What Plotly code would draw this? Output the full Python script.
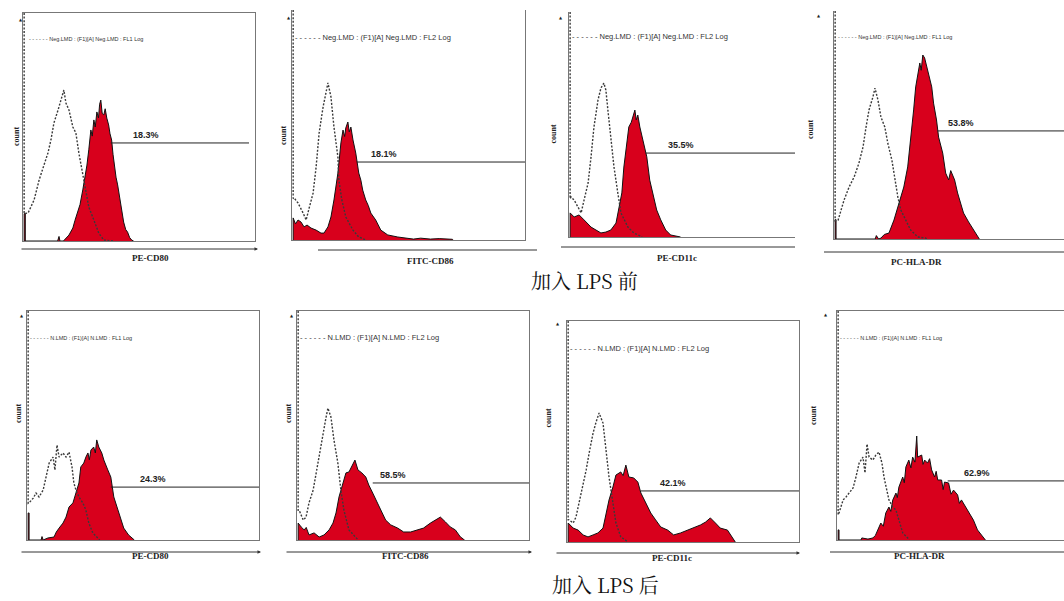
import plotly.graph_objects as go

W, H = 1064, 601

# ---------------- data (channel position 0-100, relative count 0-100) ----------------
stained_1 = [(0,0),(0,12),(0.5,12),(0.5,0),(14.5,0),(15.1,2),(15.5,0),(17,0),(19.4,2.6),(20.2,4),(21.1,5.7),(22,9),(23.3,12.7),(24.2,16),(25.4,22.4),(26.2,27),(27.2,33.3),(28,40),(28.9,48.7),(29.5,46),(30.2,53.1),(30.8,50),(31.5,56.6),(32.2,54),(32.7,60),(33.2,61.8),(33.8,56),(34.5,55.3),(35.1,58),(35.8,53.9),(36.6,50.9),(37.2,47),(37.9,44.3),(38.5,38),(39.2,32),(39.8,28),(40.5,24.6),(41.2,20),(41.8,16.7),(42.5,12),(43.1,8.3),(44,5),(44.8,3.9),(45.7,1.5),(46.6,0.4),(47.4,0)]
isotype_1 = [(0,100),(0,12),(1.7,12.3),(3.0,14.9),(4.3,18.0),(6.5,26.8),(8.2,32.0),(10.3,38.6),(11.6,44.3),(12.9,51.8),(14.7,57.5),(15.9,61.8),(17.2,66.2),(18.1,60.5),(19.4,57.5),(21.1,50),(22.4,47.4),(23.7,38.6),(25.4,29.8),(26.7,22.4),(28,14.9),(30.2,9.2),(32.3,3.5),(34.5,0.4),(38.8,0)]

stained_2 = [(0,0),(0,9.6),(1,7),(2.1,8.7),(3.4,7.8),(4.7,5.7),(6,6.5),(7.7,5.2),(9.9,4.3),(12,3.0),(13.3,3.0),(15,5.7),(16.3,10),(17.6,17.4),(19.3,29.1),(20.6,42.2),(21.5,47.8),(22.2,45),(22.7,48.7),(23.6,51.3),(24.2,47),(24.9,49.1),(25.8,43.5),(27,37.8),(28.3,29.1),(29.2,26),(30,21.7),(31.3,17.4),(32.4,15),(33.5,11.7),(35.6,8.7),(37.8,4.3),(40.8,2.2),(45.1,1.3),(51.9,0.4),(55,0.8),(59.2,0.4),(63,0.6),(68.7,0.3),(69,0)]
isotype_2 = [(0,100),(0,18),(0.4,18.3),(2.1,16.1),(4.3,11.7),(5.6,8.7),(6.9,13.9),(8.6,20.4),(9.9,31.7),(11.2,46.5),(12.9,57.8),(14.2,65.2),(15,68.3),(16.3,62.2),(17.6,49.1),(19.3,36.1),(19.7,26.1),(21,17.4),(22.7,10),(25.8,4.3),(28.3,1.3),(30.5,0.4),(31,0)]

stained_3 = [(0,0),(0,10.7),(1.8,8.9),(4,9.8),(6.2,7.6),(9.3,4.4),(11.5,3.1),(13.7,1.8),(15.9,2.2),(18.1,3.1),(20.4,6.2),(21.7,13.3),(23,19.6),(23.9,31.1),(25.2,43.1),(26.1,48.9),(27.2,51),(27.9,53.3),(28.8,56.4),(29.4,52),(30.1,54.2),(31,48.9),(32.7,41.8),(34.1,35.6),(35.4,25.3),(37.2,17.8),(38.5,12),(40.3,7.6),(42.5,3.1),(44.7,0.9),(47,0.5),(49.1,0)]
isotype_3 = [(0,100),(0,17),(0.4,17.8),(1.8,16.4),(3.5,13.3),(4.9,10.7),(6.2,16.4),(8,24),(9.3,35.6),(10.6,48.9),(12.4,60.9),(13.7,66.2),(15,68.4),(15.9,65.3),(16.8,56.4),(18.1,44.4),(19.5,31.1),(21.2,19.6),(22.6,10.7),(25.7,4.4),(28.3,1.8),(31.4,0.4),(32,0)]

stained_4 = [(0,0),(0,8.5),(0.4,8.5),(0.4,0),(17.5,0),(18,1.5),(19,0),(20,0.4),(21.5,2),(23.5,2.6),(25.7,8.3),(27.4,14),(28.7,18.4),(30,22.8),(31.7,31.6),(33,43.4),(34.3,56.6),(35.2,66.7),(36.1,72.8),(37,77.2),(37.6,74),(38.3,80.7),(39.1,79.4),(40,75.4),(40.9,71.1),(42.2,66.7),(43,59.6),(44.3,52.2),(45.2,44.7),(47,37.7),(48.3,28.9),(49.6,25.9),(50.5,30),(51.3,28.1),(52.2,25.9),(53.5,20.2),(54.8,15.8),(56.1,11.4),(58.3,7.5),(60.4,3.9),(62.6,0.4),(63,0)]
isotype_4 = [(0,100),(0,8),(1.3,8.3),(2.6,12.7),(3.9,17.1),(6.1,22.8),(8.3,27.2),(10.4,33.3),(12.2,40.4),(13.5,49.1),(14.8,56.6),(16.5,62.3),(17.4,66.2),(18.7,61),(20,53.5),(21.7,49.1),(23,42.1),(24.8,34.6),(26.1,25.9),(27.4,18.4),(28.7,12.7),(30.9,8.3),(33,3.9),(36.1,0.9),(39.6,0.4),(40,0)]

stained_5 = [(0,0),(0,11.8),(0.4,11.8),(0.4,0),(5.6,0),(6,1.5),(6.5,0),(8.6,0.9),(11.2,1.3),(12.2,3.5),(13.4,5.2),(15.1,7.4),(16.4,10),(17.7,14.4),(19.4,16.2),(20.7,20.5),(22,24.9),(22.8,31.9),(24.1,33.6),(25,36.2),(25.9,38),(26.5,35),(27.2,39.3),(28.4,40.6),(29.1,38),(29.7,43.7),(30.6,40.6),(31.9,38),(32.8,34.9),(34.5,30.6),(35.8,27.5),(37.1,18.8),(38.8,13.1),(40.1,8.7),(41.4,5.2),(43.5,2.2),(45.7,0.4),(46,0)]
isotype_5 = [(0,100),(0,16),(0.4,16.2),(2.2,18.3),(3.4,20.5),(4.7,18.8),(6.5,21.8),(7.8,27.5),(9.1,33.6),(10.8,36.2),(11.6,30.6),(12.5,41.5),(13.4,36.2),(15.1,38),(16.4,36.2),(17.7,38.4),(19,31.9),(19.8,24.9),(20.7,21.8),(22,18.8),(23.7,16.2),(25,13.1),(26.3,7.4),(28,3.1),(30.2,0.9),(31,0)]

stained_6 = [(0,0),(0,7.4),(1.3,5.7),(2.6,4.4),(3.5,5.5),(4.7,2.2),(6.9,3.1),(9.1,1.3),(11.2,2.2),(13.4,4.4),(15.1,7.4),(16.4,11.8),(17.7,18.8),(19.4,24.9),(20.7,29.3),(22,29.7),(23.7,33.6),(24.6,34.9),(25.9,30.6),(27.6,29.3),(29.3,27.5),(30.6,24),(32.3,20.5),(33.6,17.5),(35.8,13.1),(37.9,8.7),(40.1,6.6),(43.1,5.2),(45.7,3.5),(48.7,3.5),(51.7,4.4),(54.3,5.2),(57.3,7.4),(59.5,8.7),(61.6,10),(63.8,7.9),(65.9,5.7),(68.1,4.4),(70.3,1.3),(71.6,0.4),(72,0)]
isotype_6 = [(0,100),(0,13),(0.4,13.1),(2.2,8.7),(3.4,10),(4.7,16.2),(6.5,21.8),(7.8,29.3),(9.1,38),(10.8,46.7),(12.1,53.7),(12.9,57.6),(14.2,53.7),(15.5,43.7),(17.2,33.6),(18.5,21.8),(19.8,13.1),(22,4.4),(25,0.9),(26,0)]

stained_7 = [(0,0),(0,8.6),(2.2,6.3),(4.3,5.4),(6.5,3.2),(8.6,2.3),(10.8,3.2),(12.9,4.1),(15.1,6.3),(16.4,13.1),(17.7,19),(19.4,24.9),(20.7,30.3),(22.8,31.7),(23.8,30),(25,34.8),(26.3,29.4),(28.4,29),(30.2,27.1),(31.5,22.2),(33.6,17.6),(35.8,13.1),(37.9,10),(40.1,6.8),(43.1,5.4),(45.7,3.2),(48.7,4.1),(51.7,5.4),(54.3,6.3),(57.3,7.7),(59.5,9),(61.6,10.9),(63.8,8.6),(65.9,6.3),(69,5.4),(71.1,1.8),(72.4,0)]
isotype_7 = [(0,100),(0,10),(0.4,10),(2.2,8.6),(3.4,11.3),(4.7,17.6),(6.5,24.9),(7.8,32.6),(9.1,40.3),(10.8,49.3),(12.1,54.3),(13.4,58.4),(15.1,53.8),(16.4,41.6),(17.7,29.4),(19.4,17.6),(20.7,8.6),(22.8,2.3),(25,0.5),(26,0)]

stained_8 = [(0,0),(0,4.4),(0.4,4.4),(0.4,0),(10.1,0),(10.5,0.9),(13.2,0.4),(15.4,0.9),(16.5,2),(17.6,4.4),(18.9,7.4),(20,6),(21.1,11.8),(22.5,14.4),(23.3,12.5),(24.2,17.5),(25.6,20.5),(26.2,18.5),(26.9,23.1),(28.6,27.5),(29.3,25),(30,31.9),(31.3,34.9),(32.2,31.5),(33,36.2),(34,34),(34.8,45.4),(35.2,36.2),(37,37.1),(37.6,33),(38.3,34.9),(39.6,33.6),(40.5,35.5),(41.4,30.6),(42.7,27.5),(43.4,30),(44.1,26.2),(45.8,26.2),(46.5,22),(47.1,25.3),(48.9,24.9),(50,20),(51.1,21.8),(52.9,19.7),(53.7,16),(54.6,17.5),(56.4,14.4),(57.7,12.2),(59.9,8.7),(61.7,4.4),(63.9,1.3),(65.2,0)]
isotype_8 = [(0,100),(0,11),(0.4,11.8),(2.2,17.5),(3.5,18.8),(4.8,20.5),(6.6,22.7),(7.9,27.5),(9.3,33.6),(11,36.2),(11.9,29.3),(12.8,41.9),(13.7,36.2),(15.4,34.9),(16.7,37.1),(18.1,38.4),(19.4,33.6),(20.3,27.5),(21.6,21.8),(22.5,17.5),(24.2,14.4),(25.6,13.1),(26.9,8.7),(28.6,3.1),(30.8,0.9),(31.5,0)]

gate_pct = ["18.3%", "18.1%", "35.5%", "53.8%", "24.3%", "58.5%", "42.1%", "62.9%"]
gate_level = [43.0, 33.9, 37.3, 47.4, 23.1, 24.9, 23.1, 25.8]
gate_start = [37.5, 27.5, 33.6, 44.8, 35.8, 32.3, 31.5, 48.5]
gate_end = [97.4, 100, 100, 100, 100, 100, 100, 100]
gate_label_x = [52.6, 39.1, 49.1, 54.8, 53.9, 40.9, 45.3, 61.7]
markers = ["PE-CD80", "FITC-CD86", "PE-CD11c", "PC-HLA-DR", "PE-CD80", "FITC-CD86", "PE-CD11c", "PC-HLA-DR"]
legend_texts = [
    "Neg.LMD : (F1)[A] Neg.LMD : FL1 Log",
    "Neg.LMD : (F1)[A] Neg.LMD : FL2 Log",
    "Neg.LMD : (F1)[A] Neg.LMD : FL2 Log",
    "Neg.LMD : (F1)[A] Neg.LMD : FL1 Log",
    "N.LMD : (F1)[A] N.LMD : FL1 Log",
    "N.LMD : (F1)[A] N.LMD : FL2 Log",
    "N.LMD : (F1)[A] N.LMD : FL2 Log",
    "N.LMD : (F1)[A] N.LMD : FL1 Log",
]
captions = ["加入 LPS 前", "加入 LPS 后"]

stained = [stained_1, stained_2, stained_3, stained_4, stained_5, stained_6, stained_7, stained_8]
isotype = [isotype_1, isotype_2, isotype_3, isotype_4, isotype_5, isotype_6, isotype_7, isotype_8]

# ---------------- layout config (pixels) ----------------
panels = [
    dict(dom=(23, 255, 13, 241), mx=True, my=True, under=(20, 258, 249, True), tip=(17, 15),
         count=(10, 125), xlab=(130, 258), leg=(27, 39, 5.5)),
    dict(dom=(292, 525, 10, 240), mx=False, my=True, under=(318, 537, 250, False), tip=(285, 13),
         count=(277, 124), xlab=(430, 261), leg=(293, 38, 7.5)),
    dict(dom=(569, 795, 12, 237), mx=False, my=False, under=(561, 795, 247, False), tip=(561, 13),
         count=(553, 123), xlab=(677, 258), leg=(570, 37, 7.5)),
    dict(dom=(834, 1064, 11, 239), mx=False, my=False, under=(824, 1064, 252, False), tip=(823, 11),
         count=(817, 118), xlab=(944, 262), leg=(836, 37, 5.5)),
    dict(dom=(27, 259, 311, 540), mx=True, my=True, under=(20, 261, 552, True), tip=(18, 315),
         count=(12, 425), xlab=(130, 563), leg=(28, 338, 5.5)),
    dict(dom=(297, 529, 311, 540), mx=True, my=True, under=(285, 532, 552, True), tip=(288, 315),
         count=(282, 425), xlab=(405, 563), leg=(298, 338, 7.5)),
    dict(dom=(567, 799, 321, 542), mx=True, my=True, under=(555, 800, 553, True), tip=(558, 323),
         count=(548, 430), xlab=(672, 565), leg=(568, 348, 7.5)),
    dict(dom=(837, 1064, 311, 540), mx=True, my=False, under=(830, 1064, 552, False), tip=(830, 314),
         count=(820, 427), xlab=(947, 563), leg=(838, 338, 5.5)),
]

RED = "rgb(216,0,28)"
SERIF = "Liberation Serif, Times New Roman, serif"
SANS = "Liberation Sans, Arial, sans-serif"
CJK = "Noto Serif CJK SC, Liberation Serif, Noto Sans CJK SC"

fig = go.Figure()
layout = dict(width=W, height=H, margin=dict(l=0, r=0, t=0, b=0), autosize=False,
              paper_bgcolor="white", plot_bgcolor="white", showlegend=False)
annotations, shapes = [], []

def px(x):
    return x / W

def py(y):
    return 1 - y / H

for i, p in enumerate(panels):
    n = i + 1
    xk = "xaxis" if n == 1 else f"xaxis{n}"
    yk = "yaxis" if n == 1 else f"yaxis{n}"
    xr = "x" if n == 1 else f"x{n}"
    yr = "y" if n == 1 else f"y{n}"
    L, R, T, B = p["dom"]
    layout[xk] = dict(domain=[px(L), px(R)], range=[-0.5, 100], anchor=yr, showline=True,
                      mirror=p["mx"], linecolor="#777", linewidth=1, showgrid=False,
                      zeroline=False, showticklabels=False, ticks="", fixedrange=True)
    layout[yk] = dict(domain=[py(B), py(T)], range=[0, 100], anchor=xr, showline=True,
                      mirror=p["my"], linecolor="#777", linewidth=1, showgrid=False,
                      zeroline=False, showticklabels=False, ticks="", fixedrange=True)

    sx, sy = zip(*stained[i])
    fig.add_trace(go.Scatter(x=sx, y=sy, xaxis=xr, yaxis=yr, mode="lines", fill="tozeroy",
                             fillcolor=RED, line=dict(color="#111", width=1), hoverinfo="skip"))
    ix, iy = zip(*isotype[i])
    fig.add_trace(go.Scatter(x=ix, y=iy, xaxis=xr, yaxis=yr, mode="lines",
                             line=dict(color="#3a3a3a", width=1.4, dash="2px,1.6px"), hoverinfo="skip"))
    fig.add_trace(go.Scatter(x=[gate_start[i], gate_end[i]], y=[gate_level[i], gate_level[i]],
                             xaxis=xr, yaxis=yr, mode="lines", line=dict(color="#222", width=1),
                             hoverinfo="skip"))
    annotations.append(dict(x=gate_label_x[i], y=gate_level[i], xref=xr, yref=yr, text=f"<b>{gate_pct[i]}</b>",
                            showarrow=False, xanchor="center", yanchor="bottom", yshift=1,
                            font=dict(family=SANS, size=9, color="#222")))

    # lower axis line (with arrow for some panels)
    ux0, ux1, uy, arrow = p["under"]
    if arrow:
        annotations.append(dict(x=px(ux1), y=py(uy), xref="paper", yref="paper", ax=-(ux1 - ux0), ay=0,
                                axref="pixel", ayref="pixel", text="", showarrow=True, arrowhead=2,
                                arrowsize=0.7, arrowwidth=1, arrowcolor="#333"))
    else:
        shapes.append(dict(type="line", xref="paper", yref="paper", x0=px(ux0), x1=px(ux1),
                           y0=py(uy), y1=py(uy), line=dict(color="#333", width=1)))
    # small arrow tip at top of vertical axis
    tx, ty = p["tip"]
    annotations.append(dict(x=px(tx), y=py(ty), xref="paper", yref="paper", text="▲", showarrow=False,
                            font=dict(family="DejaVu Sans", size=4, color="#222")))
    # y label
    cx, cy = p["count"]
    annotations.append(dict(x=px(cx), y=py(cy), xref="paper", yref="paper", text="<b>count</b>",
                            textangle=-90, showarrow=False,
                            font=dict(family=SERIF, size=8, color="#222")))
    # x label
    lx, ly = p["xlab"]
    annotations.append(dict(x=px(lx), y=py(ly), xref="paper", yref="paper", text=f"<b>{markers[i]}</b>",
                            showarrow=False, font=dict(family=SERIF, size=9, color="#222")))
    # legend text
    gx, gy, gs = p["leg"]
    annotations.append(dict(x=px(gx), y=py(gy), xref="paper", yref="paper",
                            text="- - - - - - " + legend_texts[i], showarrow=False,
                            xanchor="left", yanchor="middle",
                            font=dict(family=SANS, size=gs, color="#333")))

# captions
annotations.append(dict(x=px(584), y=py(280), xref="paper", yref="paper", text=captions[0],
                        showarrow=False, yanchor="middle", font=dict(family=CJK, size=20, color="#111")))
annotations.append(dict(x=px(605), y=0, xref="paper", yref="paper", text=captions[1],
                        showarrow=False, yanchor="bottom", font=dict(family=CJK, size=20, color="#111")))

layout["annotations"] = annotations
layout["shapes"] = shapes
fig.update_layout(**layout)
fig.write_html("out.html", config={"responsive": False, "displayModeBar": False},
               post_script="document.body.style.margin='0';document.body.style.padding='0';"
                           "document.body.style.overflow='hidden';")
